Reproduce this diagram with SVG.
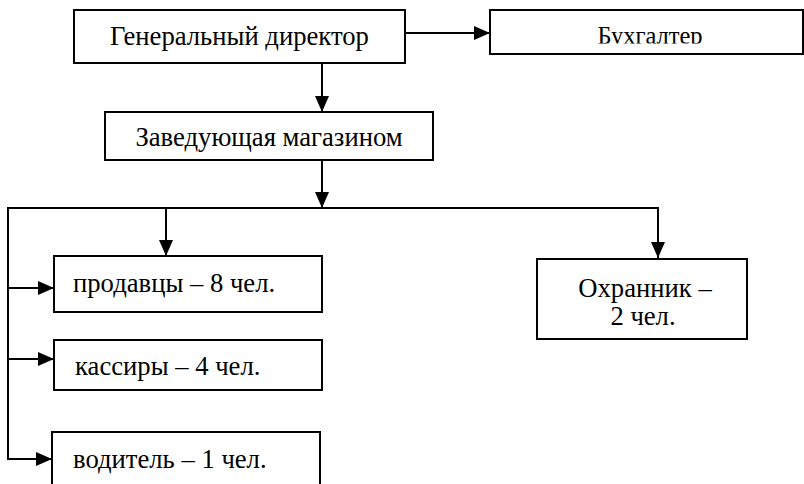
<svg xmlns="http://www.w3.org/2000/svg" width="804" height="484" viewBox="0 0 804 484">
<style>
.box{fill:#fff;stroke:#000;stroke-width:2}
.ln{fill:none;stroke:#000;stroke-width:2}
</style>
<defs>
<marker id="ah" markerUnits="userSpaceOnUse" markerWidth="16" markerHeight="14" refX="16" refY="7" orient="auto">
<path d="M0,0 L16,7 L0,14 Z" fill="#000"/>
</marker>
<clipPath id="clipB"><rect x="490" y="10" width="314" height="33.5"/></clipPath>
</defs>
<rect width="804" height="484" fill="#fff"/>
<g id="connectors">
<line class="ln" x1="405" y1="33" x2="490" y2="33" marker-end="url(#ah)"/>
<line class="ln" x1="322" y1="63" x2="322" y2="112" marker-end="url(#ah)"/>
<line class="ln" x1="322" y1="160" x2="322" y2="208" marker-end="url(#ah)"/>
<polyline class="ln" points="658,257 658,208 8,208 8,459 52,459"/>
<line class="ln" x1="658" y1="208" x2="658" y2="258" marker-end="url(#ah)"/>
<line class="ln" x1="166" y1="208" x2="166" y2="256" marker-end="url(#ah)"/>
<line class="ln" x1="8" y1="288" x2="54" y2="288" marker-end="url(#ah)"/>
<line class="ln" x1="8" y1="359" x2="54" y2="359" marker-end="url(#ah)"/>
<line class="ln" x1="8" y1="459" x2="52" y2="459" marker-end="url(#ah)"/>
</g>
<g font-family="Liberation Serif, serif" font-size="26.67" fill="#000">
<g id="gen-director">
<rect class="box" x="74" y="10" width="331" height="53"/>
<text x="239.5" y="45" text-anchor="middle">Генеральный директор</text>
</g>
<g id="accountant">
<rect class="box" x="490" y="10" width="313" height="44"/>
<text x="650" y="44" text-anchor="middle" font-size="24.5" clip-path="url(#clipB)">Бухгалтер</text>
</g>
<g id="store-manager">
<rect class="box" x="105" y="112" width="328" height="48"/>
<text x="269" y="146" text-anchor="middle">Заведующая магазином</text>
</g>
<g id="sellers">
<rect class="box" x="54" y="256" width="268" height="56"/>
<text x="73" y="292">продавцы – 8 чел.</text>
</g>
<g id="cashiers">
<rect class="box" x="54" y="340" width="268" height="50"/>
<text x="75" y="375">кассиры – 4 чел.</text>
</g>
<g id="driver">
<rect class="box" x="52" y="432" width="268" height="60"/>
<text x="73" y="468">водитель – 1 чел.</text>
</g>
<g id="guard">
<rect class="box" x="537" y="259" width="210" height="80"/>
<text x="645" y="297" text-anchor="middle">Охранник –</text>
<text x="643" y="325" text-anchor="middle">2 чел.</text>
</g>
</g>
</svg>
